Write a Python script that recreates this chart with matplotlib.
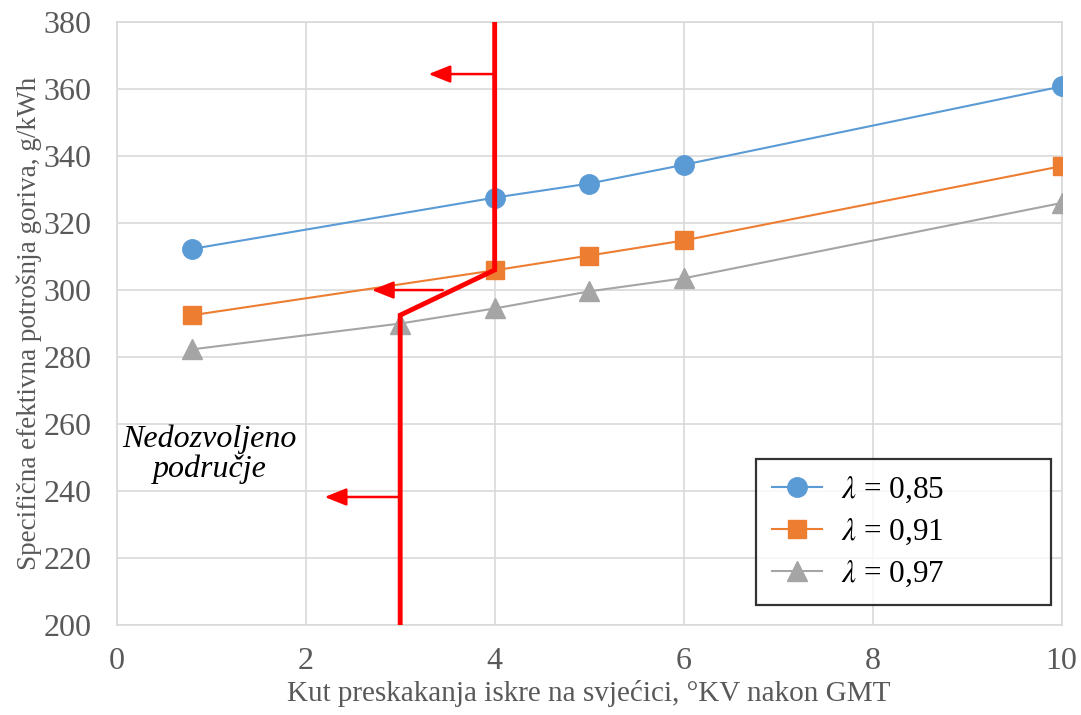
import matplotlib
matplotlib.use('Agg')
import matplotlib.pyplot as plt

# podaci sa grafa
x_085 = [0.8, 4, 5, 6, 10]
y_085 = [312.3, 327.6, 331.8, 337.4, 360.8]
x_091 = [0.8, 4, 5, 6, 10]
y_091 = [292.5, 305.9, 310.3, 314.8, 337.0]
x_097 = [0.8, 3, 4, 5, 6, 10]
y_097 = [282.3, 290.0, 294.5, 299.6, 303.5, 326.0]

# granica nedozvoljenog podrucja
granica_x = [4, 4, 3, 3]
granica_y = [380, 306, 292.5, 200]
# strelice: (x pocetak, x kraj, y)
strelice = [(4.0, 3.3, 364.5), (3.45, 2.7, 300.0), (3.0, 2.2, 238.2)]

plt.rcParams['font.family'] = ['Liberation Serif', 'DejaVu Serif']
plt.rcParams['mathtext.fontset'] = 'stix'

fig = plt.figure(figsize=(10.81, 7.15), dpi=100)
ax = fig.add_axes([0.108, 0.126, 0.874, 0.843])

ax.plot(x_085, y_085, color='#5B9BD5', lw=1.5, marker='o', ms=14, label=r'$\lambda$ = 0,85', zorder=3)
ax.plot(x_091, y_091, color='#ED7D31', lw=1.5, marker='s', ms=12.5, label=r'$\lambda$ = 0,91', zorder=3)
ax.plot(x_097, y_097, color='#A5A5A5', lw=1.5, marker='^', ms=14, label=r'$\lambda$ = 0,97', zorder=3)

ax.plot(granica_x, granica_y, color='red', lw=3.5, zorder=4, solid_joinstyle='miter')
for x0, x1, y in strelice:
    ax.annotate('', xy=(x1, y), xytext=(x0, y),
                arrowprops=dict(arrowstyle='-|>,head_length=0.55,head_width=0.22', color='red',
                                lw=1.8, mutation_scale=24, shrinkA=0, shrinkB=0), zorder=4)

ax.text(0.98, 251, 'Nedozvoljeno\npodručje', fontsize=23, style='italic',
        ha='center', va='center', linespacing=1.05)

ax.set_xlim(0, 10)
ax.set_ylim(200, 380)
ax.set_xticks(range(0, 11, 2))
ax.set_yticks(range(200, 381, 20))
ax.grid(True, color='#d9d9d9', lw=1.2)
ax.set_axisbelow(True)
for s in ax.spines.values():
    s.set_color('#d9d9d9')
    s.set_linewidth(1.2)
ax.tick_params(length=0, labelsize=23, labelcolor='#595959')
ax.tick_params(axis='x', pad=16)
ax.tick_params(axis='y', pad=18)

ax.set_xlabel('Kut preskakanja iskre na svjećici, °KV nakon GMT', fontsize=21, color='#595959', labelpad=3)
ax.set_ylabel('Specifična efektivna potrošnja goriva, g/kWh', fontsize=19.5, color='#595959', labelpad=1)

leg = ax.legend(loc='lower left', bbox_to_anchor=(0.677, 0.033, 0.312, 0.241), mode='expand',
                fontsize=22.5, frameon=True, fancybox=False, edgecolor='black',
                handlelength=1.6, handletextpad=0.6, borderpad=0.5, labelspacing=0.38,
                borderaxespad=0)
leg.get_frame().set_linewidth(1.6)

fig.savefig('out.png', dpi=100)
